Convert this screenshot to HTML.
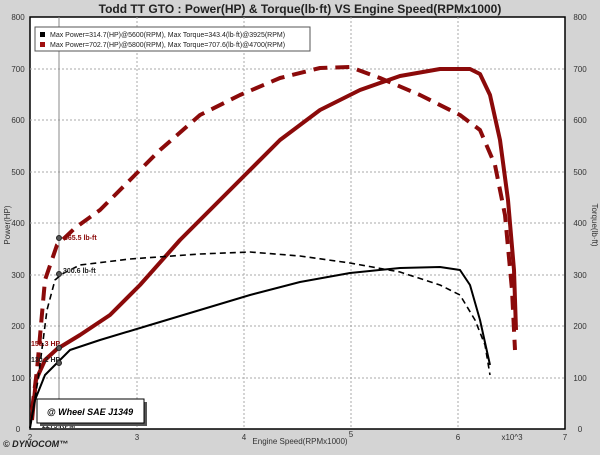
<!DOCTYPE html><html><head><style>body{margin:0;background:#d4d4d4}</style></head><body>
<svg width="600" height="450" viewBox="0 0 600 450" xmlns="http://www.w3.org/2000/svg" font-family="Liberation Sans, sans-serif">
<rect width="600" height="450" fill="#d4d4d4"/>
<text x="300" y="13" text-anchor="middle" font-size="12" font-weight="bold" fill="#222">Todd TT GTO : Power(HP) &amp; Torque(lb·ft) VS Engine Speed(RPMx1000)</text>
<rect x="30" y="17" width="535" height="412" fill="#fff" stroke="#000" stroke-width="1.5"/>
<g stroke="#aaa" stroke-dasharray="2,2" stroke-width="1">
<line x1="137" y1="17" x2="137" y2="429"/><line x1="244" y1="17" x2="244" y2="429"/><line x1="351" y1="17" x2="351" y2="429"/><line x1="458" y1="17" x2="458" y2="429"/>
<line x1="30" y1="69" x2="565" y2="69"/><line x1="30" y1="120" x2="565" y2="120"/><line x1="30" y1="172" x2="565" y2="172"/><line x1="30" y1="223" x2="565" y2="223"/><line x1="30" y1="275" x2="565" y2="275"/><line x1="30" y1="326" x2="565" y2="326"/><line x1="30" y1="378" x2="565" y2="378"/>
</g>
<g font-size="8" fill="#333">
<text x="18" y="20" text-anchor="middle">800</text><text x="18" y="72" text-anchor="middle">700</text><text x="18" y="123" text-anchor="middle">600</text><text x="18" y="175" text-anchor="middle">500</text><text x="18" y="226" text-anchor="middle">400</text><text x="18" y="278" text-anchor="middle">300</text><text x="18" y="329" text-anchor="middle">200</text><text x="18" y="381" text-anchor="middle">100</text><text x="18" y="432" text-anchor="middle">0</text>
<text x="580" y="20" text-anchor="middle">800</text><text x="580" y="72" text-anchor="middle">700</text><text x="580" y="123" text-anchor="middle">600</text><text x="580" y="175" text-anchor="middle">500</text><text x="580" y="226" text-anchor="middle">400</text><text x="580" y="278" text-anchor="middle">300</text><text x="580" y="329" text-anchor="middle">200</text><text x="580" y="381" text-anchor="middle">100</text><text x="580" y="432" text-anchor="middle">0</text>
<text x="30" y="440" text-anchor="middle">2</text><text x="137" y="440" text-anchor="middle">3</text><text x="244" y="440" text-anchor="middle">4</text><text x="351" y="437" text-anchor="middle">5</text><text x="458" y="440" text-anchor="middle">6</text><text x="565" y="440" text-anchor="middle">7</text>
<text x="512" y="440" text-anchor="middle">x10^3</text>
<text x="300" y="444" text-anchor="middle">Engine Speed(RPMx1000)</text>
<text transform="translate(10,225) rotate(-90)" text-anchor="middle">Power(HP)</text>
<text transform="translate(592,225) rotate(90)" text-anchor="middle">Torque(lb·ft)</text>
</g>
<line x1="59" y1="17" x2="59" y2="429" stroke="#888" stroke-width="1"/>
<rect x="35" y="27" width="275" height="24" fill="#fff" stroke="#555"/>
<rect x="40" y="32" width="5" height="5" fill="#000"/><rect x="40" y="42" width="5" height="5" fill="#a01010"/>
<g font-size="7" fill="#222"><text x="50" y="37">Max Power=314.7(HP)@5600(RPM), Max Torque=343.4(lb·ft)@3925(RPM)</text><text x="50" y="47">Max Power=702.7(HP)@5800(RPM), Max Torque=707.6(lb·ft)@4700(RPM)</text></g>
<g fill="none" stroke-linejoin="round">
<path d="M32,420 L36,380 45,360 57,349 80,335 110,315 140,285 180,240 210,210 245,175 280,140 320,110 360,90 400,76 440,69 470,69 480,74 490,95 500,140 508,200 514,270 516,330" stroke="#8b0a0a" stroke-width="4"/>
<path d="M32,410 L37,370 45,280 57,245 75,228 100,210 130,180 160,150 200,115 240,95 280,78 320,68 350,67 380,78 420,95 460,115 480,130 495,165 505,215 512,290 515,350" stroke="#8b0a0a" stroke-width="4" stroke-dasharray="14,8"/>
<path d="M30,428 L35,400 45,375 55,365 70,350 100,340 150,325 200,310 250,295 300,282 350,273 400,268 440,267 460,270 470,285 480,320 490,365" stroke="#000" stroke-width="2"/>
<path d="M30,428 L38,380 47,310 55,280 62,274 80,265 130,259 200,254 250,252 300,256 350,263 400,272 440,285 460,295 475,320 485,345 490,375" stroke="#000" stroke-width="1.6" stroke-dasharray="6,4"/>
</g>
<g fill="#555" stroke="#222"><circle cx="59" cy="238" r="2.5"/><circle cx="59" cy="274" r="2.5"/><circle cx="59" cy="348" r="2.5"/><circle cx="59" cy="363" r="2.5"/></g>
<g font-size="7" font-weight="bold"><text x="64" y="240" fill="#8b0a0a">365.5 lb-ft</text><text x="63" y="273" fill="#222">300.6 lb-ft</text><text x="31" y="346" fill="#8b0a0a">158.3 HP</text><text x="31" y="362" fill="#222">130.2 HP</text><text x="42" y="428" fill="#222">2275 RPM</text></g>
<rect x="40" y="402" width="107" height="24" fill="#555"/>
<rect x="37" y="399" width="107" height="24" fill="#fff" stroke="#000"/>
<text x="90" y="415" text-anchor="middle" font-size="9" font-weight="bold" font-style="italic">@ Wheel SAE J1349</text>
<text x="3" y="447" font-size="9" font-weight="bold" font-style="italic" fill="#222">© DYNOCOM™</text>
</svg></body></html>
